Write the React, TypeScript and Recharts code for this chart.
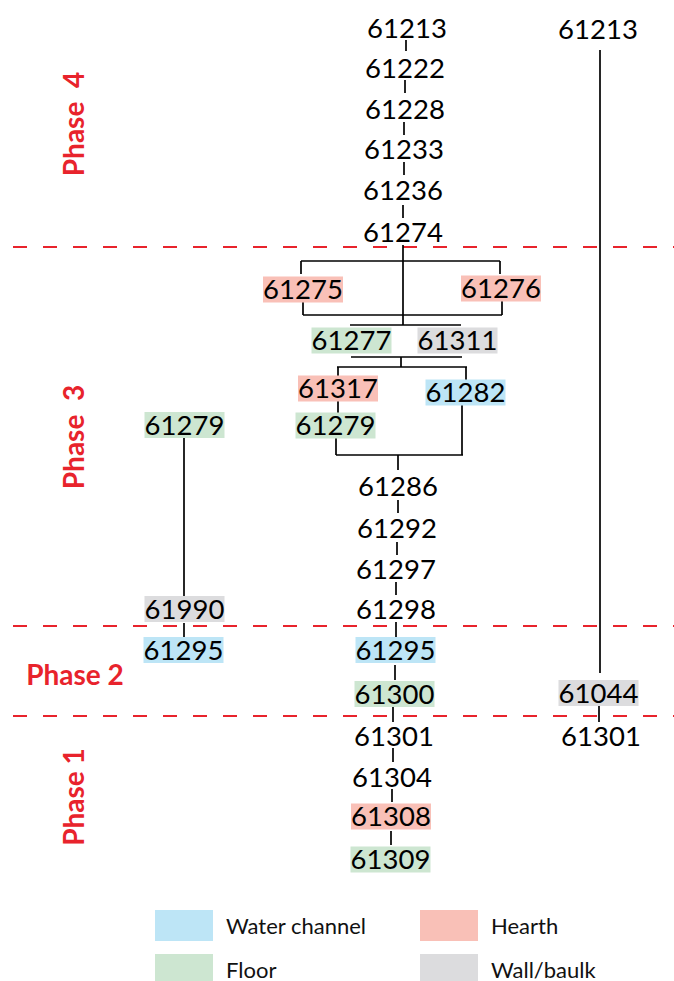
import { ScatterChart, Scatter, XAxis, YAxis, ReferenceLine, Legend } from "recharts";

// unit kinds -> fill colour of the label box
const KIND_FILL: Record<string, string | null> = {
  plain: null,
  water: "#bde5f6",
  floor: "#cde6d1",
  hearth: "#f9c0b7",
  wall: "#dcdcde",
};

const RED = "#e8232c";

// context units, positioned in the matrix (x = column, y = sequence depth)
const phase4Units = [
  { id: "61213", x: 407, y: 28, kind: "plain" },
  { id: "61222", x: 405, y: 68, kind: "plain" },
  { id: "61228", x: 405, y: 109, kind: "plain" },
  { id: "61233", x: 404, y: 149, kind: "plain" },
  { id: "61236", x: 403, y: 190, kind: "plain" },
  { id: "61274", x: 403, y: 232, kind: "plain" },
  { id: "61213", x: 598, y: 29, kind: "plain" },
];

const phase3Units = [
  { id: "61275", x: 303, y: 289.5, kind: "hearth" },
  { id: "61276", x: 501, y: 288.5, kind: "hearth" },
  { id: "61277", x: 351.5, y: 340.5, kind: "floor" },
  { id: "61311", x: 457.5, y: 340.5, kind: "wall" },
  { id: "61317", x: 338, y: 388.5, kind: "hearth" },
  { id: "61282", x: 465.5, y: 392.5, kind: "water" },
  { id: "61279", x: 335.5, y: 425.5, kind: "floor" },
  { id: "61279", x: 184.5, y: 425, kind: "floor" },
  { id: "61286", x: 398, y: 486, kind: "plain" },
  { id: "61292", x: 397, y: 528, kind: "plain" },
  { id: "61297", x: 396, y: 569, kind: "plain" },
  { id: "61298", x: 396, y: 609, kind: "plain" },
  { id: "61990", x: 184.5, y: 609, kind: "wall" },
];

const phase2Units = [
  { id: "61295", x: 183.5, y: 650, kind: "water" },
  { id: "61295", x: 395.5, y: 650, kind: "water" },
  { id: "61300", x: 394.5, y: 694, kind: "floor" },
  { id: "61044", x: 598.5, y: 693, kind: "wall" },
];

const phase1Units = [
  { id: "61301", x: 394, y: 736, kind: "plain" },
  { id: "61301", x: 601, y: 736, kind: "plain" },
  { id: "61304", x: 392, y: 777, kind: "plain" },
  { id: "61308", x: 391, y: 816.5, kind: "hearth" },
  { id: "61309", x: 390.5, y: 859.5, kind: "floor" },
];

// stratigraphic links: [x1, y1, x2, y2]
const links = [
  [406, 40, 406, 51],
  [405, 80, 405, 93],
  [404, 122, 404, 135],
  [404, 162, 404, 175],
  [403, 205, 403, 218],
  [403, 245, 403, 325],
  [600, 50, 600, 673],
  [301, 261, 500, 261],
  [301, 261, 301, 274],
  [500, 261, 500, 274],
  [303, 302, 303, 315],
  [502, 301, 502, 315],
  [303, 315, 502, 315],
  [350, 325, 461, 325],
  [351, 357, 462, 357],
  [401, 357, 401, 367],
  [337, 367, 467, 367],
  [338, 367, 338, 376],
  [466, 367, 466, 380],
  [338, 401, 338, 413],
  [336, 438, 336, 455],
  [462, 405, 462, 455],
  [336, 455, 463, 455],
  [398, 455, 398, 470],
  [398, 500, 398, 513],
  [397, 542, 397, 555],
  [396, 582, 396, 595],
  [396, 622, 396, 637],
  [395, 665, 395, 680],
  [393, 707, 393, 722],
  [393, 748, 393, 762],
  [392, 789, 392, 802],
  [391, 831, 391, 845],
  [184, 438, 184, 596],
  [184, 623, 184, 637],
  [599, 706, 599, 722],
];

const phaseBoundaries = [247, 626, 716];

const phaseLabels = [
  { text: "Phase  4", x: 73, y: 124, vertical: true },
  { text: "Phase  3", x: 73, y: 437, vertical: true },
  { text: "Phase 2", x: 75, y: 674, vertical: false },
  { text: "Phase 1", x: 73, y: 797, vertical: true },
];

const legendLabels = ["Water channel", "Hearth", "Floor", "Wall/baulk"];
const legendKinds = ["water", "hearth", "floor", "wall"];

const allUnits = [...phase4Units, ...phase3Units, ...phase2Units, ...phase1Units];

function UnitMark(props: any) {
  const { cx, cy, payload } = props;
  const fill = KIND_FILL[payload.kind];
  return (
    <g>
      {fill && <rect x={cx - 40} y={cy - 13} width={80} height={26} fill={fill} />}
      <text
        x={cx}
        y={cy + 9.8}
        textAnchor="middle"
        fontFamily="Lato"
        fontSize={27.5}
        fill="#000"
      >
        {payload.id}
      </text>
    </g>
  );
}

function PhaseMark(props: any) {
  const { cx, cy, payload } = props;
  return (
    <text
      x={cx}
      y={cy}
      transform={payload.vertical ? `rotate(-90 ${cx} ${cy})` : undefined}
      textAnchor="middle"
      dominantBaseline="central"
      fontFamily="Lato"
      fontWeight="bold"
      fontSize={28}
      fill={RED}
      style={{ whiteSpace: "pre" }}
    >
      {payload.text}
    </text>
  );
}

function LegendBox() {
  return (
    <div style={{ position: "relative", width: 480, height: 71, fontFamily: "Lato" }}>
      {legendLabels.map((label, i) => {
        const row = Math.floor(i / 2);
        const h = row === 0 ? 31 : 27;
        return (
          <div
            key={label}
            style={{
              position: "absolute",
              left: (i % 2) * 265,
              top: row * 44,
              display: "flex",
              alignItems: "center",
              height: h,
            }}
          >
            <div style={{ width: 58, height: h, background: KIND_FILL[legendKinds[i]] ?? "" }} />
            <span style={{ marginLeft: 13, fontSize: 22, lineHeight: "22px", color: "#111", paddingTop: row * 4 }}>
              {label}
            </span>
          </div>
        );
      })}
    </div>
  );
}

export default function App() {
  return (
    <div style={{ position: "absolute", left: 0, top: 0, width: 674, height: 981, background: "#fff", overflow: "hidden" }}>
      <ScatterChart width={674} height={981} margin={{ top: 0, right: 0, bottom: 0, left: 0 }}>
        <XAxis type="number" dataKey="x" domain={[0, 674]} allowDataOverflow hide />
        <YAxis type="number" dataKey="y" domain={[0, 981]} allowDataOverflow reversed hide />
        {phaseBoundaries.map((y) => (
          <ReferenceLine
            key={`b${y}`}
            segment={[{ x: 13, y }, { x: 674, y }]}
            stroke={RED}
            strokeWidth={2}
            strokeDasharray="14 16"
            ifOverflow="visible"
          />
        ))}
        {links.map(([x1, y1, x2, y2], i) => (
          <ReferenceLine
            key={`l${i}`}
            segment={[{ x: x1, y: y1 }, { x: x2, y: y2 }]}
            stroke="#000"
            strokeWidth={1.7}
            ifOverflow="visible"
          />
        ))}
        <Scatter data={allUnits} shape={UnitMark} isAnimationActive={false} />
        <Scatter data={phaseLabels} shape={PhaseMark} isAnimationActive={false} />
        <Legend
          layout="horizontal"
          verticalAlign="middle"
          align="center"
          wrapperStyle={{ left: 155, top: 910, width: 480 }}
          content={() => <LegendBox />}
        />
      </ScatterChart>
    </div>
  );
}
